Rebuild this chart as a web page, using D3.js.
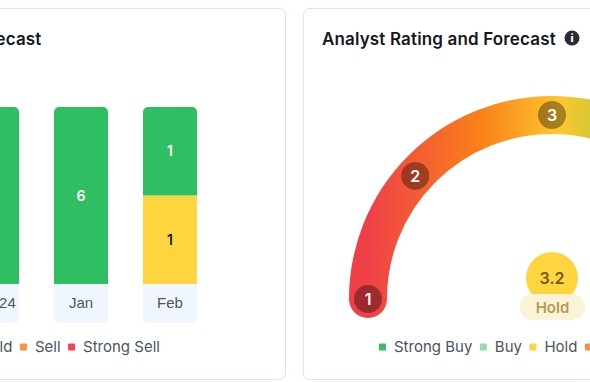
<!DOCTYPE html>
<html>
<head>
<meta charset="utf-8">
<script src="https://cdn.jsdelivr.net/npm/d3@7"></script>
<style>
html, body { margin: 0; padding: 0; background: #fff; overflow: hidden; }
svg { display: block; font-family: Inter, "Noto Sans", sans-serif; }
.card { fill: #fff; stroke: #d5e4f8; stroke-width: 1; }
.title { font-size: 17px; font-weight: 600; fill: #14171f; letter-spacing: 0.15px; }
.legend-text { font-size: 15px; fill: #4b5563; }
.axis text { font-size: 15px; fill: #4b5563; }
.axis path, .axis line { display: none; }
</style>
</head>
<body>
<div id="chart"></div>
<script>
var width = 590, height = 382;

// bar chart
var months = ["Dec 24", "Jan", "Feb"];
var strongBuy = [8, 6, 1];
var buy = [0, 0, 0];
var hold = [0, 0, 1];
var sell = [0, 0, 0];
var strongSell = [0, 0, 0];

// legend
var ratingNames = ["Strong Buy", "Buy", "Hold", "Sell", "Strong Sell"];
var ratingColors = ["#2fbf62", "#95dcb0", "#fed53f", "#fb8f43", "#f4405a"];

// gauge
var gaugeTicks = [1, 2, 3, 4, 5];
var gaugeAngles = [-90, -48, 0, 48, 90];
var gradientStops = [0, 0.3, 0.52, 0.75, 1];
var gradientColors = ["#ef4048", "#f98019", "#fdc72f", "#9ccb3c", "#2fbf62"];
var gaugeScore = 3.2;
var gaugeLabel = "Hold";

var svg = d3.select("#chart").append("svg")
    .attr("width", width)
    .attr("height", height);

var defs = svg.append("defs");

// cards, both run off the edge of the picture
svg.append("rect").attr("class", "card")
    .attr("x", -300).attr("y", 8.5).attr("width", 585.5).attr("height", 371).attr("rx", 6);
svg.append("rect").attr("class", "card")
    .attr("x", 303.5).attr("y", 8.5).attr("width", 585).attr("height", 371).attr("rx", 6);

svg.append("text").attr("class", "title")
    .attr("x", 41.5).attr("y", 45).attr("text-anchor", "end")
    .text("Analyst Rating and Forecast");
svg.append("text").attr("class", "title")
    .attr("x", 322).attr("y", 45)
    .text("Analyst Rating and Forecast");

// info icon
var info = svg.append("g").attr("transform", "translate(572,38)");
info.append("circle").attr("r", 7.5).attr("fill", "#2a2c30");
info.append("text").attr("text-anchor", "middle").attr("y", 4)
    .attr("font-size", 11).attr("font-weight", 800).attr("fill", "#fff").text("i");

// stacked bars
var x = d3.scaleBand().domain(months).range([-35, 197]).paddingInner(35 / 89);
var y = d3.scaleLinear().domain([0, 1]).range([284, 107]);

var rows = months.map(function (m, i) {
    return { month: m, "Strong Sell": strongSell[i], "Sell": sell[i], "Hold": hold[i], "Buy": buy[i], "Strong Buy": strongBuy[i] };
});
var stackKeys = ratingNames.slice().reverse();
var series = d3.stack().keys(stackKeys).offset(d3.stackOffsetExpand)(rows);
var color = d3.scaleOrdinal().domain(ratingNames).range(ratingColors);

// label strips under the bars
svg.selectAll(".strip")
    .data(months)
    .enter().append("path")
    .attr("class", "strip")
    .attr("fill", "#f0f6fe")
    .attr("d", function (d) {
        var p = d3.path(), x0 = x(d), x1 = x0 + x.bandwidth(), y0 = 284, y1 = 323, r = 5;
        p.moveTo(x0, y0);
        p.lineTo(x1, y0);
        p.lineTo(x1, y1 - r);
        p.arcTo(x1, y1, x1 - r, y1, r);
        p.lineTo(x0 + r, y1);
        p.arcTo(x0, y1, x0, y1 - r, r);
        p.closePath();
        return p.toString();
    });

var clipId = "barTop";
defs.selectAll("clipPath").data(months).enter().append("clipPath")
    .attr("id", function (d, i) { return clipId + i; })
    .append("rect")
    .attr("x", function (d) { return x(d); })
    .attr("y", y(1))
    .attr("width", x.bandwidth())
    .attr("height", y(0) - y(1) + 10)
    .attr("rx", 5);

var layers = svg.selectAll(".layer")
    .data(series)
    .enter().append("g")
    .attr("class", "layer")
    .attr("fill", function (d) { return color(d.key); });

layers.selectAll("rect")
    .data(function (d) { return d; })
    .enter().append("rect")
    .attr("clip-path", function (d, i) { return "url(#" + clipId + i + ")"; })
    .attr("x", function (d) { return x(d.data.month); })
    .attr("width", x.bandwidth())
    .attr("y", function (d) { return y(d[1]); })
    .attr("height", function (d) { return y(d[0]) - y(d[1]); });

layers.selectAll("text")
    .data(function (d) { return d.map(function (v) { return { v: v, key: d.key }; }); })
    .enter().filter(function (d) { return d.v[1] - d.v[0] > 0; })
    .append("text")
    .attr("x", function (d) { return x(d.v.data.month) + x.bandwidth() / 2; })
    .attr("y", function (d) { return y((d.v[0] + d.v[1]) / 2) + 5; })
    .attr("text-anchor", "middle")
    .attr("font-size", 14)
    .attr("font-weight", 600)
    .attr("fill", function (d) { return d.key === "Hold" ? "#14171f" : "#fff"; })
    .text(function (d) { return d.v.data[d.key]; });

svg.append("g")
    .attr("class", "axis")
    .attr("transform", "translate(0,284)")
    .call(d3.axisBottom(x).tickSize(0).tickPadding(13));
svg.selectAll(".axis text").attr("dy", "0.71em");

// gauge
var cx = 552, cy = 299, radius = 184, bandWidth = 38;
var gaugeAngle = d3.scaleLinear().domain(gaugeTicks).range(gaugeAngles);

var gradient = defs.append("linearGradient")
    .attr("id", "gaugeFill")
    .attr("gradientUnits", "userSpaceOnUse")
    .attr("x1", cx - radius).attr("y1", 0)
    .attr("x2", cx + radius).attr("y2", 0);
gradient.selectAll("stop")
    .data(gradientStops)
    .enter().append("stop")
    .attr("offset", function (d) { return d; })
    .attr("stop-color", function (d, i) { return gradientColors[i]; });

var bandPath = d3.path();
bandPath.arc(cx, cy, radius, Math.PI, 0);
svg.append("path")
    .attr("d", bandPath.toString())
    .attr("fill", "none")
    .attr("stroke", "url(#gaugeFill)")
    .attr("stroke-width", bandWidth)
    .attr("stroke-linecap", "round");

var badges = svg.selectAll(".badge")
    .data(gaugeTicks)
    .enter().append("g")
    .attr("class", "badge")
    .attr("transform", function (d) {
        var a = gaugeAngle(d) * Math.PI / 180;
        return "translate(" + (cx + radius * Math.sin(a)) + "," + (cy - radius * Math.cos(a)) + ")";
    });
badges.append("circle").attr("r", 14).attr("fill", "#000").attr("fill-opacity", 0.35);
badges.append("text")
    .attr("text-anchor", "middle").attr("y", 6)
    .attr("font-size", 16).attr("font-weight", 600).attr("fill", "#fff")
    .text(function (d) { return d; });

// score marker
svg.append("circle").attr("cx", cx).attr("cy", 278).attr("r", 26).attr("fill", "#fed53f");
svg.append("text").attr("x", cx).attr("y", 284).attr("text-anchor", "middle")
    .attr("font-size", 16).attr("font-weight", 600).attr("fill", "#6e5c1c").text(gaugeScore);
svg.append("rect").attr("x", 520).attr("y", 294).attr("width", 65).attr("height", 26).attr("rx", 13)
    .attr("fill", "#faf3d8");
svg.append("text").attr("x", 552.5).attr("y", 313).attr("text-anchor", "middle")
    .attr("font-size", 15).attr("font-weight", 600).attr("fill", "#b59c4a").text(gaugeLabel);

// legends, one per card, laid out by measured text width
function drawLegend(startX) {
    var g = svg.append("g").attr("transform", "translate(" + startX + ",347)");
    var pos = 0;
    ratingNames.forEach(function (name, i) {
        g.append("rect").attr("x", pos).attr("y", -3.5).attr("width", 7).attr("height", 7).attr("rx", 1)
            .attr("fill", ratingColors[i]);
        var t = g.append("text").attr("class", "legend-text").attr("x", pos + 15).attr("y", 5).text(name);
        pos += 15 + t.node().getComputedTextLength() + 7.5;
    });
}
drawLegend(-186);
drawLegend(379);
</script>
</body>
</html>
